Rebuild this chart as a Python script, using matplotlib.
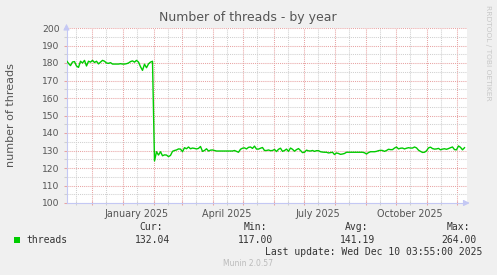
import matplotlib
matplotlib.use("Agg")
import matplotlib.pyplot as plt
import matplotlib.dates as mdates
import matplotlib.ticker as mticker
from matplotlib.patches import Rectangle
import pandas as pd

# threads, one sample every 2 days starting 2024-11-06
threads = [
    181.3, 179.8, 178.5, 180.6, 180.8, 178.3, 177.5, 181.0, 180.0, 181.5,
    178.3, 181.0, 180.5, 181.5, 180.3, 181.0, 179.5, 180.5, 181.5, 181.0,
    180.0, 179.8, 180.2, 179.4, 179.4, 179.4, 179.4, 179.6, 179.4, 179.4,
    179.6, 180.0, 180.8, 181.2, 180.5, 181.5, 180.5, 177.9, 175.8, 179.3,
    177.3, 179.5, 180.5, 181.0,
    124.0, 129.3, 127.4, 129.3, 127.0, 127.5, 127.4, 126.5, 127.2, 129.5,
    130.0, 130.3, 130.9, 130.8, 129.3, 131.6, 131.0, 132.0, 131.0, 131.4,
    131.2, 130.9, 131.2, 132.3, 129.5, 130.0, 131.0, 129.7, 130.2, 130.3,
    130.0, 129.7, 129.7, 129.7, 129.7, 129.7, 129.7, 129.7, 129.7, 129.7,
    130.0, 129.5, 129.0, 130.7, 131.3, 131.5, 130.9, 131.8,
    132.0, 131.2, 132.5, 130.8, 130.8, 131.3, 131.7, 130.0, 130.0, 130.3,
    129.9, 130.0, 130.6, 129.4, 130.7, 131.3, 129.5, 130.0, 130.8, 129.5,
    131.4, 130.7, 129.6, 130.5, 131.1, 130.0, 128.8, 129.0, 130.2, 129.8,
    129.7, 130.0, 129.5, 129.9, 129.9, 129.3, 129.1, 129.0, 129.0, 128.6,
    128.8, 129.0, 127.7, 128.6, 128.3, 127.8, 128.0, 128.3, 129.0, 129.0,
    129.0, 129.0, 129.0, 129.0, 129.0, 129.0, 129.0, 128.7, 128.0, 128.8,
    129.3, 129.3, 129.3, 129.5, 129.9, 130.1, 130.0, 129.5, 130.0, 130.7,
    130.5, 130.5, 131.4, 132.0, 130.9, 131.3, 131.4, 130.9, 131.3, 131.6,
    131.4, 131.4, 132.0, 131.5, 130.2, 129.5, 128.9, 129.0, 129.8, 131.5,
    131.9, 131.1, 130.8, 130.9, 131.2, 130.4, 130.8, 131.0, 130.7, 131.1,
    131.6, 132.0, 130.5, 130.4, 132.6, 131.8, 130.4, 131.6,
]
dates = pd.date_range("2024-11-06", periods=len(threads), freq="2D")

stat_labels = ["Cur:", "Min:", "Avg:", "Max:"]
stat_values = [132.04, 117.00, 141.19, 264.00]
last_update = "Last update: Wed Dec 10 03:55:00 2025"

W, H = 497, 275
bg = "#F0F0F0"
major_c = "#E8A4A4"
minor_c = "#D0D0D0"
axis_c = "#C4C8F4"
text_c = "#555555"


def fx(x):
    return x / W


def fy(y):
    return 1 - y / H


fig = plt.figure(figsize=(W / 100, H / 100), dpi=100, facecolor=bg)
ax = fig.add_axes([fx(66.5), fy(203), 400 / W, 175 / H])
ax.set_facecolor("white")

ax.plot(dates, threads, color="#00CC00", lw=1.0, zorder=3)

ax.set_xlim(pd.Timestamp("2024-11-06"), pd.Timestamp("2024-11-06") + pd.Timedelta(days=400))
ax.set_ylim(100, 200)

ax.xaxis.set_major_locator(mdates.MonthLocator())
ax.xaxis.set_minor_locator(mdates.MonthLocator(bymonthday=15))
ax.xaxis.set_major_formatter(mticker.NullFormatter())


def month_label(x, pos):
    d = mdates.num2date(x)
    return d.strftime("%B %Y") if d.month in (1, 4, 7, 10) else ""


ax.xaxis.set_minor_formatter(mticker.FuncFormatter(month_label))
ax.yaxis.set_major_locator(mticker.MultipleLocator(10))
ax.yaxis.set_minor_locator(mticker.MultipleLocator(5))

ax.set_axisbelow(True)
ax.grid(which="major", color=major_c, linestyle=(0, (1, 1)), lw=0.75)
ax.grid(which="minor", color=minor_c, linestyle=(0, (1, 1)), lw=0.75)

for s in ["top", "right"]:
    ax.spines[s].set_visible(False)
for s in ["left", "bottom"]:
    ax.spines[s].set_color(axis_c)
    ax.spines[s].set_linewidth(0.8)

ax.tick_params(axis="y", which="both", direction="out", length=2.5, pad=2.5,
               labelsize=6.6, labelcolor=text_c, width=0.75)
ax.tick_params(axis="x", which="both", direction="inout", length=3, pad=2.5,
               labelsize=6.9, labelcolor=text_c, width=0.75)
ax.tick_params(which="major", color=major_c)
ax.tick_params(which="minor", color=minor_c)

# axis arrows
ax.annotate("", xy=(0, 1 + 7 / 175), xytext=(0, 0.99), xycoords="axes fraction",
            arrowprops=dict(arrowstyle="-|>", color=axis_c, lw=0.8, mutation_scale=9))
ax.annotate("", xy=(1 + 6 / 400, 0), xytext=(0.99, 0), xycoords="axes fraction",
            arrowprops=dict(arrowstyle="-|>", color=axis_c, lw=0.8, mutation_scale=9))

fig.text(fx(248), fy(18), "Number of threads - by year", ha="center", va="center",
         fontsize=9, color=text_c)
fig.text(fx(11), fy(115), "number of threads", rotation=90, ha="center", va="center",
         fontsize=8, color=text_c)
fig.text(fx(488), fy(5), "RRDTOOL / TOBI OETIKER", rotation=270, ha="center", va="top",
         fontsize=5.4, color="#C8C8C8")

# legend
mono = "DejaVu Sans Mono"
fig.patches.append(Rectangle((fx(14), fy(243)), 6 / W, 6 / H, transform=fig.transFigure,
                             facecolor="#00CC00", edgecolor="none"))
fig.text(fx(26.5), fy(240), "threads", ha="left", va="center", family=mono,
         fontsize=7, color="#333333")
head_x = [163, 267, 368, 470]
val_x = [170, 273, 375, 477]
for lab, val, hx, vx in zip(stat_labels, stat_values, head_x, val_x):
    fig.text(fx(hx), fy(227.5), lab, ha="right", va="center", family=mono,
             fontsize=7, color="#333333")
    fig.text(fx(vx), fy(240), f"{val:.2f}", ha="right", va="center", family=mono,
             fontsize=7, color="#333333")
fig.text(fx(482.5), fy(252), last_update, ha="right", va="center", family=mono,
         fontsize=7, color="#333333")
fig.text(fx(248), fy(263.5), "Munin 2.0.57", ha="center", va="center",
         fontsize=5.5, color="#BBBBBB")

fig.savefig("out.png", dpi=100, facecolor=bg)
